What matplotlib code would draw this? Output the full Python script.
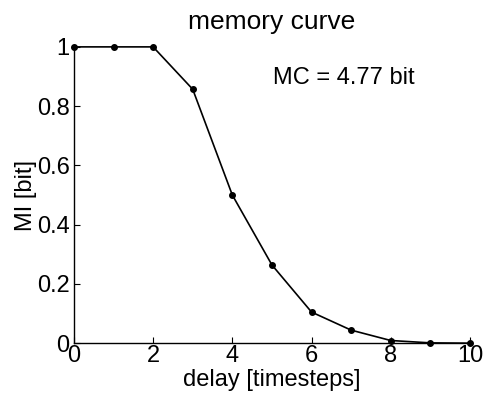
import numpy as np
import matplotlib.pyplot as plt

plt.rcParams['font.family'] = ['Liberation Sans', 'DejaVu Sans']

# memory curve data
delay = np.arange(11)
mi = [1.0, 1.0, 1.0, 0.857, 0.5, 0.264, 0.105, 0.044, 0.009, 0.001, 0.0]
xticks = [0, 2, 4, 6, 8, 10]
yticks = [0, 0.2, 0.4, 0.6, 0.8, 1]
ytick_labels = ['0', '0.2', '0.4', '0.6', '0.8', '1']

fig = plt.figure(figsize=(4.83, 3.94), dpi=100)
ax = fig.add_axes([0.153, 0.129, 0.820, 0.752])
ax.plot(delay, mi, color='k', linewidth=1.2, marker='o', markersize=4,
        clip_on=False, zorder=3)
ax.set_xlim(0, 10)
ax.set_ylim(0, 1)
ax.set_xticks(xticks)
ax.set_xticklabels([str(t) for t in xticks])
ax.set_yticks(yticks)
ax.set_yticklabels(ytick_labels)
ax.tick_params(direction='in', length=4, width=0.8, labelsize=17)
ax.tick_params(axis='x', pad=1)
ax.tick_params(axis='y', pad=3)
ax.spines['top'].set_visible(False)
ax.spines['right'].set_visible(False)
for s in ['left', 'bottom']:
    ax.spines[s].set_linewidth(1.0)
ax.set_xlabel('delay [timesteps]', fontsize=17, labelpad=2)
ax.set_ylabel('MI [bit]', fontsize=17, labelpad=0)
ax.set_title('memory curve', fontsize=19, pad=13)
ax.text(5.03, 0.895, 'MC = 4.77 bit', fontsize=17, va='center')

fig.savefig('out.png', dpi=100)
